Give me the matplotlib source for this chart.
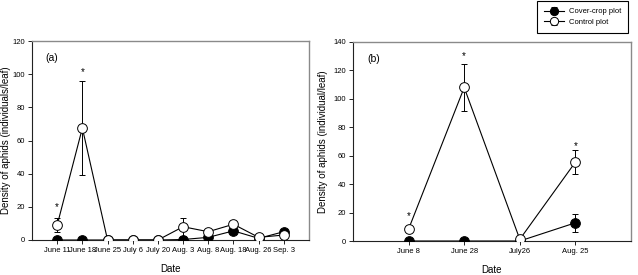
import matplotlib.pyplot as plt
import numpy as np

plt.rcParams["font.family"] = ["Liberation Sans", "DejaVu Sans"]

# panel (a)
dates_a = ["June 11", "June 18", "June 25", "July 6", "July 20",
           "Aug. 3", "Aug. 8", "Aug. 18", "Aug. 26", "Sep. 3"]
cover_a = [0, 0, 0, 0, 0, 0.3, 1.6, 5.5, 1.0, 5.0]
cover_a_err = [0, 0, 0, 0, 0, 0, 0.8, 1.5, 0.5, 1.0]
control_a = [9, 67.5, 0, 0, 0, 8, 5, 9.5, 1.6, 3]
control_a_err = [4.3, 28.5, 0, 0, 0, 5.5, 1.0, 1.0, 0.5, 1.0]
star_a = [(0, 20), (1, 101.5)]

# panel (b)
dates_b = ["June 8", "June 28", "July26", "Aug. 25"]
cover_b = [0, 0, 0, 12.8]
cover_b_err = [0, 0, 0, 6.5]
control_b = [8.4, 108, 1.2, 55.5]
control_b_err = [0, 16.5, 0, 8.5]
star_b = [(0, 17.5), (1, 130), (3, 67)]

W, H = 638, 275
fig = plt.figure(figsize=(W / 100, H / 100), dpi=100)


def ax_px(x0, y0, x1, y1):
    return fig.add_axes([x0 / W, 1 - y1 / H, (x1 - x0) / W, (y1 - y0) / H])


def draw(ax, labels, cover, cover_err, control, control_err, stars, ylim, yticks, tag, ylabel, ylab_x):
    x = np.arange(len(labels))
    ax.errorbar(x, cover, yerr=cover_err, color="black", lw=0.8, elinewidth=0.7,
                capsize=2.5, capthick=0.7, marker="o", ms=7, mfc="black", mec="black",
                mew=0.7, zorder=3, label="Cover-crop plot")
    ax.errorbar(x, control, yerr=control_err, color="black", lw=0.8, elinewidth=0.7,
                capsize=2.5, capthick=0.7, marker="o", ms=7, mfc="white", mec="black",
                mew=0.7, zorder=4, label="Control plot")
    for i, y in stars:
        ax.text(i, y, "*", ha="center", va="center", fontsize=7)
    ax.set_xlim(-1, len(labels))
    ax.set_ylim(*ylim)
    ax.set_yticks(yticks)
    ax.set_xticks(x)
    ax.set_xticklabels(labels)
    ax.tick_params(axis="both", labelsize=5.5, length=3, width=0.6, pad=2, direction="out")
    for s in ("left", "bottom"):
        ax.spines[s].set_color("#222222")
        ax.spines[s].set_linewidth(0.8)
    for s in ("top", "right"):
        ax.spines[s].set_color("#8a8a8a")
        ax.spines[s].set_linewidth(1.0)
    ax.text(0.05, 0.9, tag, transform=ax.transAxes, fontsize=7.5)
    ax.set_xlabel("Date", fontsize=7, labelpad=7)
    ax.set_ylabel(ylabel, fontsize=7)
    ax.yaxis.set_label_coords(ylab_x, 0.5)


ax1 = ax_px(32, 41, 309, 240)
draw(ax1, dates_a, cover_a, cover_a_err, control_a, control_a_err, star_a,
     (0, 120), range(0, 121, 20), "(a)", "Density of aphids (individuals/leaf)",
     (11 - 32) / 277)

ax2 = ax_px(353, 42, 631, 241)
draw(ax2, dates_b, cover_b, cover_b_err, control_b, control_b_err, star_b,
     (0, 140), range(0, 141, 20), "(b)", "Density of aphids (individual/leaf)",
     (328 - 353) / 278)

h, l = ax2.get_legend_handles_labels()
leg = fig.legend(h, l, loc="upper right", bbox_to_anchor=(628 / W, 1 - 1 / H), fontsize=5.5,
                 frameon=True, fancybox=False, edgecolor="black", framealpha=1,
                 handlelength=2.6, borderpad=0.9, labelspacing=0.45, markerscale=0.85,
                 handletextpad=0.6, borderaxespad=0)
leg.get_frame().set_linewidth(0.8)

fig.savefig("out.png", dpi=100)
